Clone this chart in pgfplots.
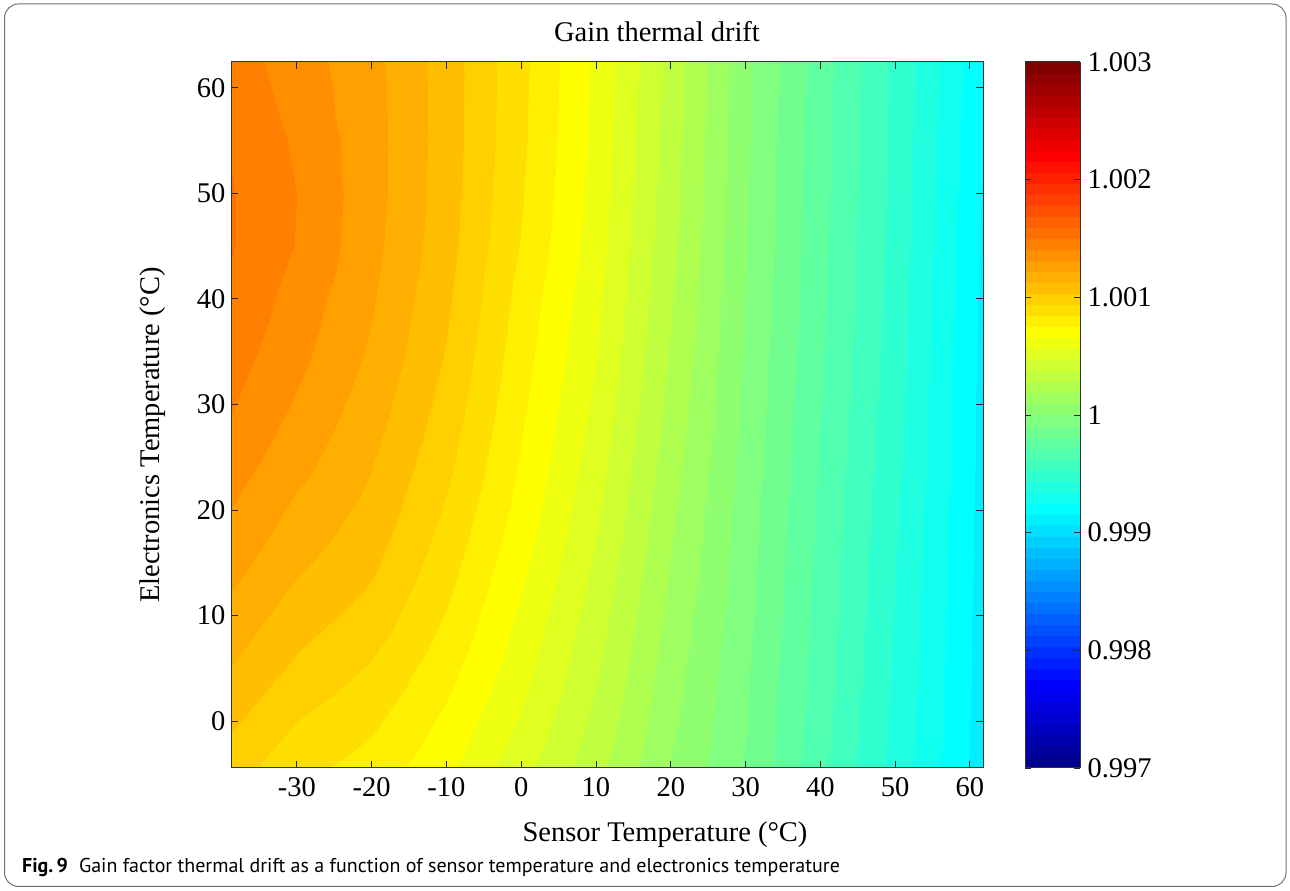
\documentclass[border=0pt]{standalone}
\usepackage{fontspec}
\setmainfont{Liberation Serif}
\newfontfamily\capfont{PT Sans}
\usepackage{pgfplots}
\pgfplotsset{compat=1.18}
\usepackage{pgfplotstable}

% 64-level jet colour table, one colour per interval
\pgfplotsset{colormap={mljet}{
 rgb=(0,0,0.5625) rgb=(0,0,0.625) rgb=(0,0,0.6875) rgb=(0,0,0.75)
 rgb=(0,0,0.8125) rgb=(0,0,0.875) rgb=(0,0,0.9375) rgb=(0,0,1)
 rgb=(0,0.0625,1) rgb=(0,0.125,1) rgb=(0,0.1875,1) rgb=(0,0.25,1)
 rgb=(0,0.3125,1) rgb=(0,0.375,1) rgb=(0,0.4375,1) rgb=(0,0.5,1)
 rgb=(0,0.5625,1) rgb=(0,0.625,1) rgb=(0,0.6875,1) rgb=(0,0.75,1)
 rgb=(0,0.8125,1) rgb=(0,0.875,1) rgb=(0,0.9375,1) rgb=(0,1,1)
 rgb=(0.0625,1,0.9375) rgb=(0.125,1,0.875) rgb=(0.1875,1,0.8125) rgb=(0.25,1,0.75)
 rgb=(0.3125,1,0.6875) rgb=(0.375,1,0.625) rgb=(0.4375,1,0.5625) rgb=(0.5,1,0.5)
 rgb=(0.5625,1,0.4375) rgb=(0.625,1,0.375) rgb=(0.6875,1,0.3125) rgb=(0.75,1,0.25)
 rgb=(0.8125,1,0.1875) rgb=(0.875,1,0.125) rgb=(0.9375,1,0.0625) rgb=(1,1,0)
 rgb=(1,0.9375,0) rgb=(1,0.875,0) rgb=(1,0.8125,0) rgb=(1,0.75,0)
 rgb=(1,0.6875,0) rgb=(1,0.625,0) rgb=(1,0.5625,0) rgb=(1,0.5,0)
 rgb=(1,0.4375,0) rgb=(1,0.375,0) rgb=(1,0.3125,0) rgb=(1,0.25,0)
 rgb=(1,0.1875,0) rgb=(1,0.125,0) rgb=(1,0.0625,0) rgb=(1,0,0)
 rgb=(0.9375,0,0) rgb=(0.875,0,0) rgb=(0.8125,0,0) rgb=(0.75,0,0)
 rgb=(0.6875,0,0) rgb=(0.625,0,0) rgb=(0.5625,0,0) rgb=(0.5,0,0)
}}

% gain factor g over sensor temperature x and electronics temperature y
\pgfplotstableread{
x y g
-39 -5 1.000975
-30 -5 1.000863
-20 -5 1.000797
-10 -5 1.000675
0 -5 1.000497
10 -5 1.000309
20 -5 1.000084
30 -5 0.999897
40 -5 0.999653
50 -5 0.999400
62 -5 0.999100
-39 0 1.001050
-30 0 1.000938
-20 0 1.000863
-10 0 1.000731
0 0 1.000553
10 0 1.000352
20 0 1.000113
30 0 0.999911
40 0 0.999667
50 0 0.999414
62 0 0.999105
-39 5 1.001125
-30 5 1.001013
-20 5 1.000928
-10 5 1.000788
0 5 1.000600
10 5 1.000389
20 5 1.000136
30 5 0.999920
40 5 0.999677
50 5 0.999423
62 5 0.999109
-39 10 1.001191
-30 10 1.001078
-20 10 1.000994
-10 10 1.000839
0 10 1.000638
10 10 1.000422
20 10 1.000159
30 10 0.999934
40 10 0.999686
50 10 0.999433
62 10 0.999109
-39 15 1.001256
-30 15 1.001144
-20 15 1.001050
-10 15 1.000886
0 15 1.000680
10 15 1.000455
20 15 1.000183
30 15 0.999944
40 15 0.999695
50 15 0.999442
62 15 0.999114
-39 20 1.001313
-30 20 1.001200
-20 20 1.001097
-10 20 1.000928
0 20 1.000717
10 20 1.000488
20 20 1.000206
30 20 0.999953
40 20 0.999705
50 20 0.999452
62 20 0.999114
-39 25 1.001369
-30 25 1.001256
-20 25 1.001134
-10 25 1.000966
0 25 1.000745
10 25 1.000516
20 25 1.000230
30 25 0.999967
40 25 0.999714
50 25 0.999466
62 25 0.999119
-39 30 1.001416
-30 30 1.001303
-20 30 1.001172
-10 30 1.000998
0 30 1.000769
10 30 1.000544
20 30 1.000253
30 30 0.999977
40 30 0.999723
50 30 0.999475
62 30 0.999119
-39 35 1.001453
-30 35 1.001341
-20 35 1.001205
-10 35 1.001027
0 35 1.000792
10 35 1.000567
20 35 1.000272
30 35 0.999986
40 35 0.999733
50 35 0.999484
62 35 0.999123
-39 40 1.001486
-30 40 1.001369
-20 40 1.001228
-10 40 1.001050
0 40 1.000811
10 40 1.000586
20 40 1.000291
30 40 0.999995
40 40 0.999742
50 40 0.999489
62 40 0.999128
-39 45 1.001509
-30 45 1.001402
-20 45 1.001247
-10 45 1.001069
0 45 1.000839
10 45 1.000605
20 45 1.000305
30 45 1.000005
40 45 0.999747
50 45 0.999498
62 45 0.999133
-39 50 1.001509
-30 50 1.001406
-20 50 1.001256
-10 50 1.001078
0 50 1.000853
10 50 1.000619
20 50 1.000319
30 50 1.000009
40 50 0.999752
50 50 0.999503
62 50 0.999142
-39 55 1.001491
-30 55 1.001392
-20 55 1.001256
-10 55 1.001083
0 55 1.000863
10 55 1.000628
20 55 1.000328
30 55 1.000014
40 55 0.999756
50 55 0.999508
62 55 0.999152
-39 60 1.001467
-30 60 1.001369
-20 60 1.001252
-10 60 1.001083
0 60 1.000867
10 60 1.000633
20 60 1.000338
30 60 1.000019
40 60 0.999761
50 60 0.999513
62 60 0.999161
-39 63 1.001453
-30 63 1.001359
-20 63 1.001247
-10 63 1.001083
0 63 1.000872
10 63 1.000638
20 63 1.000342
30 63 1.000023
40 63 0.999766
50 63 0.999513
62 63 0.999166
}\gaindrift

\newcommand{\figfont}{\fontsize{28.5}{30}\selectfont}

\begin{document}
\begin{tikzpicture}
\useasboundingbox (0,0) rectangle (1290pt,891pt);
\draw[black!55, line width=1pt, rounded corners=14pt] (4.5pt,4.5pt) rectangle (1286pt,887pt);

\begin{axis}[
  at={(231pt,123pt)}, anchor=south west,
  scale only axis, width=752pt, height=706pt,
  xmin=-38.8, xmax=61.75, ymin=-4.45, ymax=62.45,
  xtick={-30,-20,-10,0,10,20,30,40,50,60},
  xticklabels={-30,-20,-10,0,10,20,30,40,50,60},
  ytick={0,10,20,30,40,50,60},
  yticklabels={0,10,20,30,40,50,60},
  tick label style={font=\figfont},
  xticklabel style={yshift=-6pt},
  yticklabel style={xshift=-2pt},
  tick align=inside, major tick length=7pt,
  tick style={line width=0.9pt, black!85},
  axis line style={line width=1pt, black!80},
  axis on top,
  title={Gain thermal drift},
  title style={at={(axis description cs:0.5665,1.035)}, anchor=center, font=\figfont},
  xlabel={Sensor Temperature (°C)},
  xlabel style={at={(axis description cs:0.5771,-0.095)}, anchor=center, font=\figfont},
  ylabel={Electronics Temperature (°C)},
  ylabel style={at={(axis description cs:-0.1037,0.4717)}, anchor=center, font=\figfont},
  colormap name=mljet,
  colormap access=piecewise constant,
  point meta min=0.997, point meta max=1.003,
  colorbar,
  colorbar style={
    at={(1.05585,1)}, anchor=north west,
    width=55pt,
    scaled y ticks=false,
    ytick={0.997,0.998,0.999,1,1.001,1.002,1.003},
    yticklabels={0.997,0.998,0.999,1,1.001,1.002,1.003},
    yticklabel style={font=\figfont, xshift=4pt},
    ytick pos=both, yticklabel pos=right,
    tick align=inside, major tick length=6pt,
    tick style={line width=0.9pt, black!85},
    axis line style={line width=1pt, black!80},
  },
]
\addplot[surf, shader=interp, mesh/cols=11, point meta=\thisrow{g}]
  table[x=x, y=y] {\gaindrift};
\end{axis}

\node[anchor=base west, inner sep=0pt] at (22pt,18pt)
  {\capfont\fontsize{20}{22}\selectfont\textbf{Fig.\,9}\hspace{0.55em}Gain factor thermal drift as a function of sensor temperature and electronics temperature};
\end{tikzpicture}
\end{document}
